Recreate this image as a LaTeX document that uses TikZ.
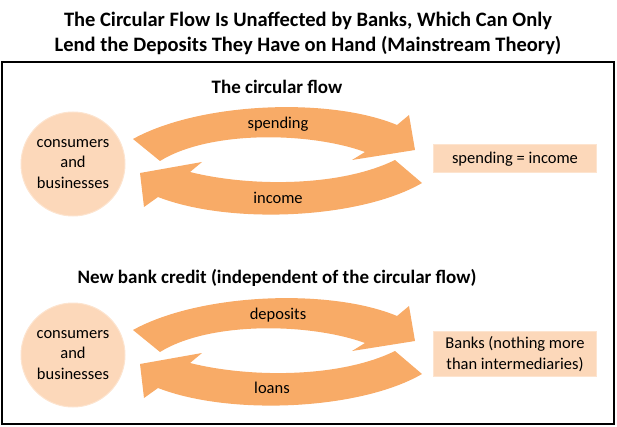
\documentclass[tikz,border=0pt]{standalone}
\usepackage{fontspec}
\setmainfont{Carlito}
\usetikzlibrary{positioning}

\definecolor{arrowfill}{HTML}{F8AB67}
\definecolor{peach}{HTML}{FCD8BA}
\definecolor{peachline}{HTML}{FDE4CF}

\begin{document}
\begin{tikzpicture}[x=1pt,y=-1pt,on grid,node distance=191pt,
	agent/.style={circle,fill=peach,draw=peachline,line width=1pt,minimum size=104pt,inner sep=0pt,align=center,font=\fontsize{16.5}{20.5}\selectfont},
	outcome/.style={rectangle,fill=peach,draw=peachline,line width=1pt,minimum width=163pt,minimum height=28pt,inner ysep=5pt,align=center,font=\fontsize{16.5}{20.5}\selectfont},
	flowlabel/.style={font=\fontsize{16.5}{20}\selectfont},
	heading/.style={font=\bfseries\fontsize{19}{23}\selectfont},
	flowarrow/.style={fill=arrowfill}]

	\useasboundingbox (0,0) rectangle (617,427);

	\node[font=\bfseries\fontsize{20.5}{25}\selectfont,align=center] (title) at (308,33)
		{The Circular Flow Is Unaffected by Banks, Which Can Only\\Lend the Deposits They Have on Hand (Mainstream Theory)};
	\draw[line width=1.2pt] (2,62) rectangle (614,424);

	% curved arrows, same shape in both parts
	\foreach \dy in {0,191}{
		\begin{scope}[yshift=-\dy pt]
			\fill[flowarrow] (133,139) .. controls (200,102) and (330,97) .. (397,125) -- (409,115) -- (415,150)
				-- (352,160) -- (365,152) .. controls (310,132) and (210,130) .. (160,161) -- cycle;
			\fill[flowarrow] (422,183) .. controls (360,219) and (230,225) .. (158,197) -- (144,207) -- (140,173)
				-- (202,162) -- (190,172) .. controls (250,187) and (340,187) .. (395,160) -- cycle;
		\end{scope}
	}

	\node[heading] (flowhead) at (277,87) {The circular flow};
	\node[heading] (credithead) [below=191pt of flowhead] {New bank credit (independent of the circular flow)};

	\node[agent] (cb1) at (73,164) {consumers\\and\\businesses};
	\node[agent] (cb2) [below=of cb1] {consumers\\and\\businesses};

	\node[outcome] (equal) at (515,159) {spending = income};
	\node[outcome] (banks) at (515,354) {Banks (nothing more\\than intermediaries)};

	\node[flowlabel] (spending) at (278,124) {spending};
	\node[flowlabel] (income) at (278,198) {income};
	\node[flowlabel] (deposits) [below=of spending] {deposits};
	\node[flowlabel] (loans) at (272,388) {loans};
\end{tikzpicture}
\end{document}
